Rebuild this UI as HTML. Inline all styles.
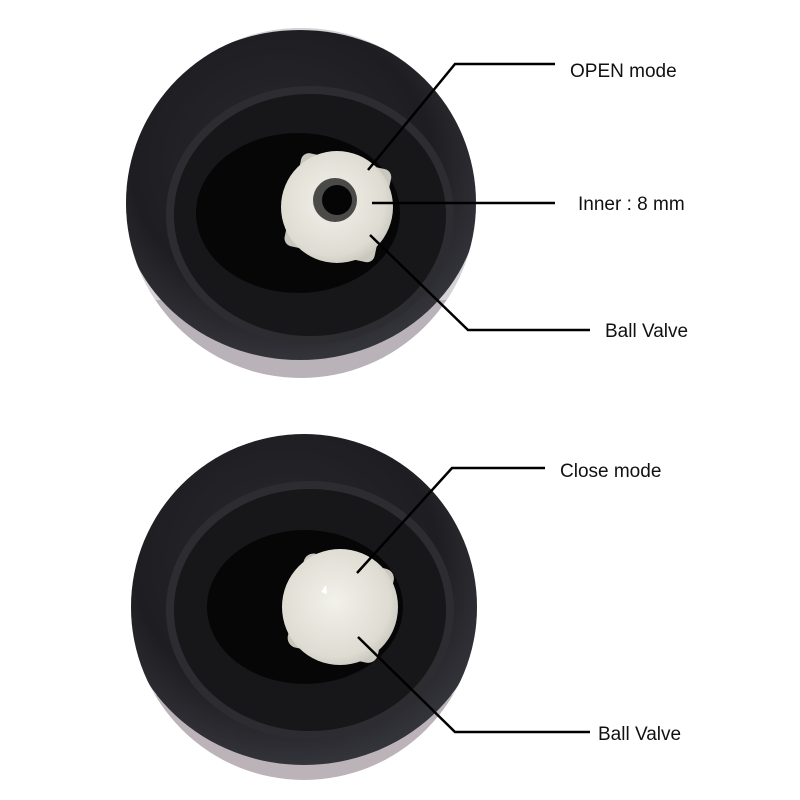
<!DOCTYPE html>
<html><head><style>
html,body{margin:0;padding:0;background:#fff;}
svg{display:block}
text{font-family:"Liberation Sans Narrow","Liberation Sans",sans-serif;font-size:19px;fill:#111;}
</style></head><body>
<svg width="800" height="800" viewBox="0 0 800 800">
<defs>
<radialGradient id="outer" cx="0.45" cy="0.4" r="0.6">
<stop offset="0" stop-color="#2a2a2e"/><stop offset="0.7" stop-color="#1e1e22"/><stop offset="1" stop-color="#33333a"/>
</radialGradient>
<radialGradient id="ball" cx="0.45" cy="0.45" r="0.6">
<stop offset="0" stop-color="#f2f1ea"/><stop offset="0.8" stop-color="#dedcd2"/><stop offset="1" stop-color="#c8c6bc"/>
</radialGradient>
<clipPath id="c1"><circle cx="301" cy="203" r="175"/></clipPath>
<clipPath id="c2"><circle cx="304" cy="607" r="173"/></clipPath>
</defs>
<g clip-path="url(#c1)">
<rect x="100" y="20" width="400" height="380" fill="#b9b2b8"/>
<rect x="100" y="20" width="400" height="280" fill="#d5d3d6"/>
<ellipse cx="300" cy="195" rx="180" ry="165" fill="url(#outer)"/>
<ellipse cx="310" cy="215" rx="140" ry="125" fill="#17171a" stroke="#2c2c31" stroke-width="8"/>
<ellipse cx="298" cy="213" rx="102" ry="80" fill="#060607"/>
<rect x="292" y="160" width="92" height="95" rx="8" fill="#c9c7be" transform="rotate(12 337 207)"/>
<circle cx="337" cy="207" r="56" fill="url(#ball)"/>
<circle cx="335" cy="200" r="22" fill="#4a4a48"/>
<circle cx="337" cy="200" r="15" fill="#050505"/>
</g>
<g clip-path="url(#c2)">
<rect x="100" y="420" width="400" height="380" fill="#bcb3b9"/>
<rect x="100" y="420" width="400" height="275" fill="#d5d3d6"/>
<ellipse cx="304" cy="595" rx="182" ry="170" fill="url(#outer)"/>
<ellipse cx="310" cy="610" rx="140" ry="125" fill="#17171a" stroke="#2c2c31" stroke-width="8"/>
<ellipse cx="305" cy="607" rx="98" ry="77" fill="#060607"/>
<rect x="295" y="560" width="92" height="96" rx="10" fill="#c9c7be" transform="rotate(12 340 607)"/>
<circle cx="340" cy="607" r="58" fill="url(#ball)"/>
<path d="M321 592 l5 -7 l1 9 z" fill="#fff"/>
</g>
<g stroke="#000" stroke-width="2.5" fill="none">
<polyline points="368,170 455,64 555,64"/>
<polyline points="372,203 555,203"/>
<polyline points="370,235 468,330 590,330"/>
<polyline points="357,573 452,468 545,468"/>
<polyline points="358,637 455,732 590,732"/>
</g>
<text x="570" y="77">OPEN mode</text>
<text x="578" y="210">Inner : 8 mm</text>
<text x="605" y="337">Ball Valve</text>
<text x="560" y="477">Close mode</text>
<text x="598" y="740">Ball Valve</text>
</svg>
</body></html>
